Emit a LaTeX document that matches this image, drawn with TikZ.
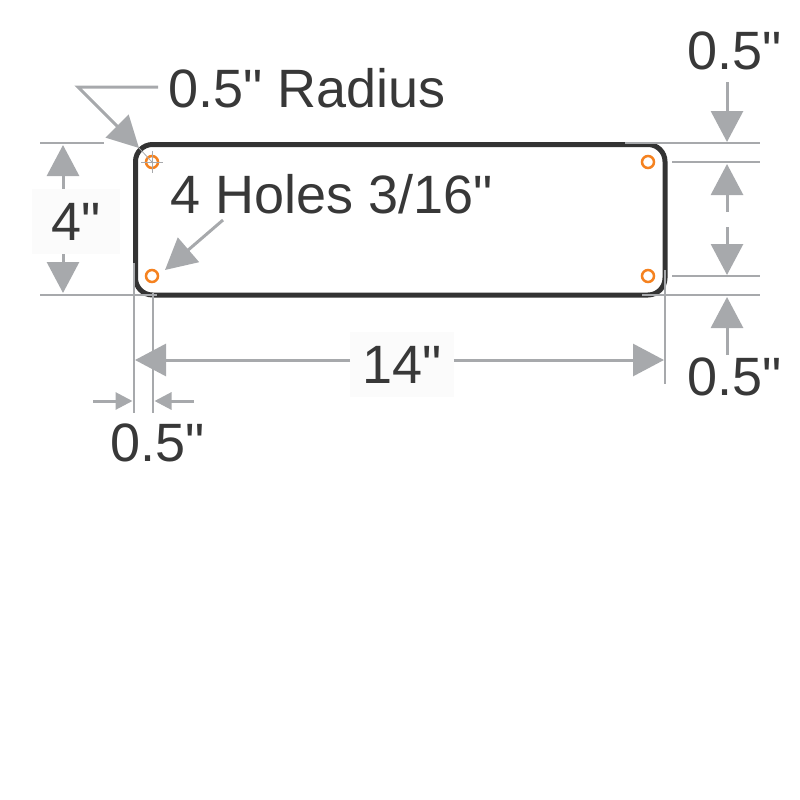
\documentclass[tikz,border=0pt]{standalone}
\usepackage{fontspec}
\newfontfamily\dimfont{Liberation Sans}
\usepackage{tikz}
\usetikzlibrary{arrows.meta,positioning}
\definecolor{signdark}{HTML}{333333}
\definecolor{dimgray}{HTML}{A7A9AC}
\definecolor{holeorange}{HTML}{F58220}
\definecolor{txtdark}{HTML}{383838}

\begin{document}
\begin{tikzpicture}[x=1pt, y=-1pt,
    sign/.style={draw=signdark, line width=5pt, rounded corners=17pt},
    hole/.style={circle, draw=holeorange, line width=2.5pt, minimum size=12pt, inner sep=0pt},
    ext/.style={draw=dimgray, line width=2.6pt},
    thin/.style={draw=dimgray, line width=0.8pt},
    arrow/.style={-{Triangle[length=31pt,width=32pt]}, draw=dimgray, line width=3pt},
    smallarrow/.style={-{Triangle[length=17pt,width=17pt]}, draw=dimgray, line width=3pt},
    lbl/.style={text=txtdark, font=\dimfont\fontsize{54}{60}\selectfont, inner sep=0pt},
    tag/.style={lbl, fill=gray!3, inner xsep=12pt, inner ysep=14pt}
]
    \useasboundingbox (0,0) rectangle (800,800);

    % sign and holes
    \draw[sign] (135.5,144.5) rectangle (665,295);
    \foreach \x/\y/\n in {152/162/tl, 648/162/tr, 152/276/bl, 648/276/br}
        \node[hole] (h\n) at (\x,\y) {};
    \draw[thin] (141,162) -- (163,162) (152,151) -- (152,173);

    % radius callout
    \node[lbl, anchor=base west] (radius) at (168,107) {0.5" Radius};
    \coordinate (radstart) at (158,87);
    \coordinate (radbend) at (78,87);
    \coordinate (radtip) at (139,148);
    \draw[thin] (radtip) -- (htl.center);
    \draw[arrow] (radstart) -- (radbend) -- (radtip);

    % holes callout
    \node[lbl, anchor=base west] (holes) at (170,213) {4 Holes 3/16"};
    \coordinate (holestart) at (223,220);
    \coordinate (holetip) at (165,270);
    \draw[arrow] (holestart) -- (holetip);

    % height
    \draw[ext] (40,143) -- (104,143) (40,295) -- (157,295);
    \node[tag, inner xsep=19pt, anchor=base] (height) at (76,240) {4"};
    \coordinate (htop) at (63,145);
    \coordinate (hbot) at (63,293);
    \draw[arrow] (height.north -| htop) -- (htop);
    \draw[arrow] (height.south -| hbot) -- (hbot);

    % width
    \draw[ext] (134,263) -- (134,413) (153,293) -- (153,413) (665,270) -- (665,384);
    \node[tag, anchor=base] (width) at (402,383) {14"};
    \coordinate (wl) at (135,360);
    \coordinate (wr) at (664,360);
    \draw[arrow] (width.west |- wl) -- (wl);
    \draw[arrow] (width.east |- wr) -- (wr);

    % side margin
    \node[lbl, anchor=base] (mside) at (158,461) {0.5"};
    \coordinate (msl) at (93,401);
    \coordinate (mtl) at (132.5,401);
    \coordinate (msr) at (194,401);
    \coordinate (mtr) at (154.5,401);
    \draw[smallarrow] (msl) -- (mtl);
    \draw[smallarrow] (msr) -- (mtr);

    % top and bottom margins
    \draw[ext] (625,143) -- (760,143) (672,162) -- (760,162)
               (672,276) -- (760,276) (642,295) -- (760,295);
    \node[lbl, anchor=base] (mtop) at (735,70) {0.5"};
    \node[lbl, anchor=base] (mbot) at (735,395) {0.5"};
    \foreach \n/\a/\b in {1/82/142, 2/212/164, 3/227/275, 4/355/297} {
        \coordinate (ms\n) at (727,\a);
        \coordinate (mt\n) at (727,\b);
        \draw[arrow] (ms\n) -- (mt\n);
    }
\end{tikzpicture}
\end{document}
